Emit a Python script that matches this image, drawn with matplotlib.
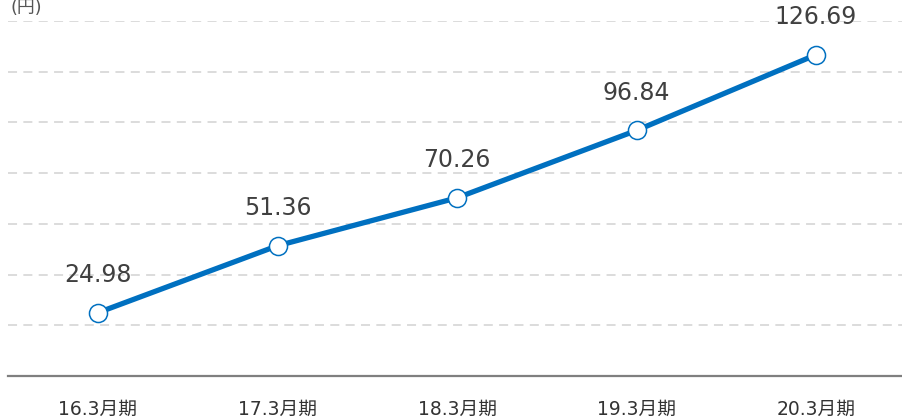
import matplotlib
matplotlib.use("Agg")
import matplotlib.pyplot as plt

plt.rcParams['font.family'] = ['DejaVu Sans', 'Noto Sans CJK JP']

categories = ["16.3月期", "17.3月期", "18.3月期", "19.3月期", "20.3月期"]
values = [24.98, 51.36, 70.26, 96.84, 126.69]
labels = ["24.98", "51.36", "70.26", "96.84", "126.69"]
unit_label = "(円)"

W, H = 902, 419
fig = plt.figure(figsize=(W/100, H/100), dpi=100)
ax = fig.add_axes([8.25/W, (H-376)/H, 897.5/W, (376-21)/H])

x = list(range(len(categories)))
ax.set_xlim(-0.5, len(categories)-0.5)
ax.set_ylim(0, 140)

for gy in [20, 40, 60, 80, 100, 120, 140]:
    ax.axhline(gy, color='#d9d9d9', lw=1.3, linestyle=(0, (5, 3.5)), zorder=1)

ax.plot(x, values, color='#0070c0', lw=3.8, zorder=3,
        marker='o', markersize=13, markerfacecolor='white',
        markeredgecolor='#0070c0', markeredgewidth=1.1)

for xi, v, lab in zip(x, values, labels):
    ax.annotate(lab, (xi, v), xytext=(0, 27), textcoords='offset points',
                ha='center', va='center', fontsize=17, color='#404040',
                annotation_clip=False)

for s in ['top', 'right', 'left']:
    ax.spines[s].set_visible(False)
ax.spines['bottom'].set_color('#7f7f7f')
ax.spines['bottom'].set_linewidth(1.6)
ax.set_yticks([])
ax.set_xticks(x)
ax.set_xticklabels(categories, fontsize=13.5, color='#333333')
ax.tick_params(axis='x', length=0, pad=17)

fig.text(10/W, 1 - 8/H, unit_label, ha='left', va='center', fontsize=12.8,
         color='#555555')

fig.savefig("out.png", dpi=100)
